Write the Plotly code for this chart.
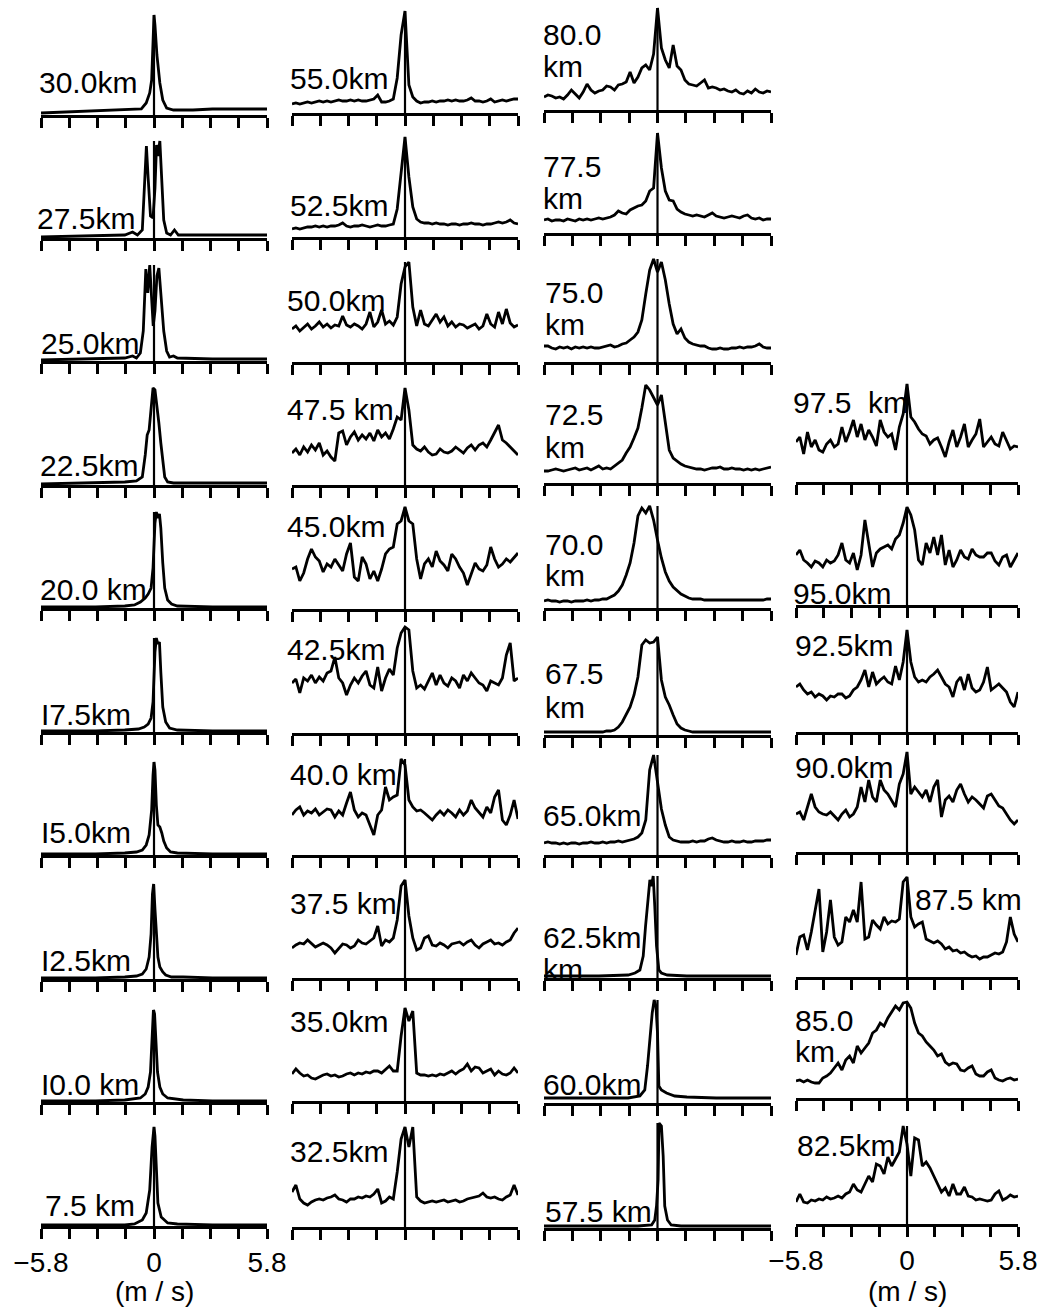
import plotly.graph_objects as go

FIG_W, FIG_H = 1043, 1307

# Doppler velocity axis (m/s)
TICK_VALUES = [-5.8, -4.35, -2.9, -1.45, 0.0, 1.45, 2.9, 4.35, 5.8]
EDGE_TICK_TEXT = ["\u22125.8", "", "", "", "0", "", "", "", "5.8"]
VEL_UNIT = "(m / s)"

# shared 0.2 m/s velocity grid used by the broader / noisier spectra
VEL = [round(-5.8 + 0.2 * k, 1) for k in range(59)]

# ---------------- 7.5 - 30.0 km (narrow echoes) ----------------
VEL_30_0 = [-5.8, -4.5, -3.0, -2.0, -1.2, -0.65, -0.4, -0.22, -0.12, -0.05, 0.0,
            0.05, 0.15, 0.3, 0.45, 0.65, 1.0, 2.0, 3.0, 4.5, 5.8]
POW_30_0 = [2, 3, 4, 5, 5, 6, 12, 22, 35, 80, 100, 90, 60, 32, 15, 7, 5, 5, 6, 6, 6]

VEL_27_5 = [-5.8, -3.0, -1.5, -1.1, -0.85, -0.6, -0.5, -0.39, -0.3, -0.18, -0.05,
            0.05, 0.13, 0.2, 0.3, 0.4, 0.5, 0.65, 0.85, 1.05, 1.25, 3.0, 5.8]
POW_27_5 = [1, 2, 3, 6, 3, 8, 45, 92, 60, 22, 20, 50, 93, 82, 97, 55, 18, 5, 3, 8, 3, 3, 3]

VEL_25_0 = [-5.8, -3.0, -1.5, -1.1, -0.9, -0.7, -0.55, -0.42, -0.32, -0.22, -0.12,
            -0.04, 0.05, 0.15, 0.25, 0.35, 0.5, 0.65, 0.8, 1.0, 1.2, 3.0, 5.8]
POW_25_0 = [1, 2, 3, 5, 3, 8, 30, 92, 68, 96, 60, 35, 50, 85, 93, 70, 30, 10, 4, 5, 3, 2, 2]

VEL_22_5 = [-5.8, -3.0, -1.5, -0.9, -0.6, -0.45, -0.35, -0.25, -0.15, -0.05, 0.05,
            0.15, 0.25, 0.35, 0.45, 0.55, 0.7, 1.0, 3.0, 5.8]
POW_22_5 = [1, 2, 3, 4, 8, 30, 50, 55, 75, 97, 95, 80, 62, 42, 22, 8, 3, 2, 2, 2]

VEL_20_0 = [-5.8, -3.0, -1.5, -1.0, -0.7, -0.45, -0.3, -0.15, -0.05, 0.05, 0.12,
            0.2, 0.28, 0.35, 0.45, 0.55, 0.7, 0.9, 1.2, 3.0, 5.8]
POW_20_0 = [1, 1, 2, 3, 6, 10, 14, 20, 40, 85, 96, 90, 94, 80, 45, 20, 8, 4, 2, 1, 1]

VEL_17_5 = [-5.8, -3.0, -1.5, -0.8, -0.5, -0.3, -0.15, -0.05, 0.05, 0.12, 0.2,
            0.28, 0.35, 0.45, 0.6, 0.8, 1.2, 3.0, 5.8]
POW_17_5 = [1, 1, 2, 3, 5, 8, 14, 30, 80, 94, 88, 90, 60, 25, 10, 4, 2, 1, 1]

VEL_15_0 = [-5.8, -3.0, -1.5, -0.9, -0.6, -0.4, -0.25, -0.12, -0.05, 0.0, 0.05,
            0.12, 0.2, 0.3, 0.4, 0.5, 0.65, 0.85, 1.2, 3.0, 5.8]
POW_15_0 = [1, 1, 2, 3, 5, 10, 20, 45, 80, 93, 85, 50, 30, 28, 22, 14, 7, 3, 2, 1, 1]

VEL_12_5 = [-5.8, -3.0, -1.5, -0.9, -0.6, -0.4, -0.25, -0.15, -0.08, -0.02, 0.05,
            0.12, 0.2, 0.3, 0.45, 0.6, 0.9, 1.5, 3.0, 5.8]
POW_12_5 = [1, 1, 2, 3, 5, 10, 22, 45, 85, 95, 70, 40, 22, 12, 7, 4, 2, 2, 1, 1]

VEL_10_0 = [-5.8, -3.0, -1.5, -1.0, -0.7, -0.45, -0.3, -0.18, -0.1, -0.03, 0.03,
            0.1, 0.18, 0.3, 0.45, 0.7, 1.0, 1.5, 3.0, 5.8]
POW_10_0 = [1, 1, 2, 3, 4, 8, 15, 30, 60, 92, 88, 55, 30, 15, 8, 4, 3, 2, 1, 1]

VEL_7_5 = [-5.8, -3.0, -1.5, -1.0, -0.6, -0.4, -0.22, -0.1, -0.03, 0.0, 0.05,
           0.12, 0.2, 0.37, 0.7, 1.2, 3.0, 5.8]
POW_7_5 = [1, 1, 1, 2, 6, 13, 36, 79, 95, 99, 90, 63, 23, 9, 3, 2, 1, 1]

# ---------------- 32.5 - 55.0 km (on VEL grid) ----------------
POW_55_0 = [9, 10, 9, 10, 11, 10, 11, 12, 11, 12,
            11, 12, 13, 12, 12, 13, 12, 13, 12, 12,
            13, 14, 18, 11, 11, 12, 14, 35, 78, 102,
            28, 16, 12, 10, 11, 11, 12, 11, 12, 12,
            13, 12, 13, 12, 12, 13, 15, 12, 12, 11,
            12, 14, 11, 12, 13, 12, 13, 14, 14]
POW_52_5 = [8, 9, 8, 9, 10, 10, 11, 10, 11, 10,
            11, 11, 12, 14, 11, 10, 11, 11, 12, 11,
            10, 11, 12, 11, 11, 12, 13, 28, 62, 100,
            60, 30, 18, 15, 14, 14, 13, 14, 13, 13,
            12, 13, 13, 12, 13, 13, 14, 13, 13, 12,
            13, 13, 14, 15, 14, 15, 17, 14, 13]
POW_50_0 = [33, 36, 31, 35, 38, 33, 36, 40, 35, 38,
            34, 37, 36, 46, 37, 35, 38, 36, 33, 38,
            50, 35, 40, 52, 38, 41, 37, 45, 78, 95,
            100, 55, 36, 52, 38, 36, 42, 48, 40, 45,
            36, 40, 35, 38, 37, 34, 36, 38, 33, 36,
            48, 38, 35, 50, 38, 53, 39, 35, 37]
POW_47_5 = [32, 36, 30, 38, 33, 40, 35, 42, 30, 34,
            28, 24, 52, 54, 40, 48, 53, 45, 50, 46,
            52, 44, 55, 48, 52, 46, 56, 68, 65, 97,
            75, 40, 36, 34, 38, 33, 30, 31, 36, 33,
            32, 34, 38, 35, 32, 37, 40, 35, 40, 42,
            38, 45, 52, 60, 45, 42, 38, 34, 30]
POW_45_0 = [40, 42, 28, 36, 50, 60, 52, 48, 37, 45,
            42, 50, 44, 38, 55, 66, 32, 28, 52, 45,
            30, 38, 28, 40, 55, 60, 62, 85, 88, 102,
            88, 85, 50, 30, 45, 50, 42, 58, 48, 44,
            38, 55, 50, 42, 36, 24, 35, 46, 40, 38,
            44, 62, 50, 42, 45, 50, 47, 52, 56]
POW_42_5 = [50, 54, 40, 55, 52, 58, 50, 56, 52, 60,
            62, 76, 55, 50, 38, 48, 55, 50, 57, 62,
            48, 45, 66, 42, 55, 64, 58, 85, 100, 106,
            103, 62, 45, 48, 44, 52, 60, 48, 58, 50,
            47, 55, 52, 45, 58, 52, 60, 55, 50, 48,
            42, 52, 50, 48, 55, 78, 90, 52, 55]
POW_40_0 = [40, 45, 48, 40, 44, 42, 46, 40, 43, 46,
            45, 38, 44, 40, 52, 63, 45, 38, 42, 40,
            30, 20, 40, 45, 68, 55, 58, 60, 96, 90,
            55, 48, 44, 45, 42, 38, 35, 40, 44, 40,
            45, 42, 38, 45, 40, 44, 55, 47, 42, 38,
            48, 42, 58, 65, 35, 30, 40, 55, 36]
POW_37_5 = [30, 33, 35, 34, 38, 34, 31, 33, 35, 33,
            30, 25, 30, 34, 33, 30, 32, 38, 35, 34,
            37, 40, 52, 32, 38, 36, 40, 58, 92, 98,
            62, 40, 28, 30, 40, 42, 33, 32, 35, 33,
            30, 34, 35, 36, 33, 36, 38, 33, 30, 34,
            36, 38, 34, 35, 33, 36, 38, 45, 50]
POW_35_0 = [27, 32, 28, 25, 26, 23, 22, 24, 26, 27,
            25, 26, 24, 25, 27, 28, 26, 28, 27, 29,
            28, 30, 30, 28, 32, 35, 30, 30, 65, 93,
            80, 90, 28, 26, 26, 25, 26, 25, 27, 26,
            28, 30, 27, 30, 32, 37, 30, 34, 33, 28,
            30, 32, 26, 30, 27, 26, 28, 33, 28]
POW_32_5 = [35, 42, 28, 24, 22, 25, 27, 28, 27, 29,
            30, 32, 28, 27, 25, 28, 28, 30, 29, 31,
            30, 33, 38, 24, 26, 30, 28, 55, 88, 100,
            80, 100, 30, 26, 24, 25, 26, 25, 26, 27,
            25, 26, 27, 25, 26, 28, 29, 30, 31, 34,
            30, 29, 30, 28, 27, 30, 32, 42, 32]

# ---------------- 57.5 - 80.0 km ----------------
POW_80_0 = [13, 15, 14, 12, 13, 11, 15, 20, 16, 12,
            18, 26, 20, 17, 19, 20, 24, 23, 20, 25,
            26, 28, 38, 27, 33, 42, 45, 40, 56, 102,
            62, 50, 42, 65, 44, 40, 30, 26, 25, 24,
            27, 30, 22, 23, 22, 20, 21, 19, 18, 20,
            17, 16, 19, 17, 21, 18, 17, 19, 18]
POW_77_5 = [13, 14, 12, 13, 13, 12, 14, 13, 12, 14,
            13, 14, 13, 14, 15, 14, 15, 16, 18, 22,
            20, 19, 23, 25, 27, 28, 32, 42, 45, 100,
            65, 42, 33, 32, 24, 21, 19, 18, 17, 18,
            17, 16, 18, 20, 17, 16, 15, 16, 17, 16,
            15, 17, 18, 15, 14, 15, 13, 14, 14]
POW_75_0 = [16, 16, 14, 13, 15, 14, 15, 13, 15, 14,
            15, 14, 15, 14, 14, 15, 16, 17, 15, 16,
            18, 19, 22, 25, 30, 42, 68, 92, 103, 90,
            100, 82, 58, 38, 28, 33, 24, 20, 18, 17,
            16, 16, 14, 13, 13, 14, 13, 13, 14, 14,
            15, 14, 15, 15, 16, 18, 15, 14, 14]
POW_72_5 = [12, 12, 13, 14, 13, 12, 13, 14, 15, 13,
            14, 15, 13, 15, 17, 14, 15, 14, 17, 20,
            23, 30, 36, 45, 55, 75, 98, 93, 85, 78,
            88, 60, 33, 25, 22, 19, 17, 16, 15, 14,
            14, 13, 14, 15, 15, 16, 14, 14, 15, 14,
            14, 13, 14, 13, 14, 13, 14, 15, 16]
POW_70_0 = [7, 8, 7, 7, 6, 7, 7, 6, 7, 7,
            7, 8, 7, 8, 8, 9, 9, 11, 13, 17,
            23, 33, 45, 65, 92, 100, 95, 102, 88, 68,
            50, 36, 27, 21, 17, 14, 12, 10, 9, 9,
            9, 8, 8, 8, 8, 8, 8, 8, 8, 8,
            8, 8, 8, 8, 8, 8, 8, 9, 9]
POW_67_5 = [3, 3, 3, 3, 3, 3, 3, 3, 3, 3,
            3, 3, 3, 3, 3, 3, 4, 4, 5, 8,
            13, 20, 28, 40, 58, 90, 95, 92, 93, 98,
            55, 38, 30, 20, 11, 7, 5, 4, 3, 3,
            3, 3, 3, 3, 3, 3, 3, 3, 3, 3,
            3, 3, 3, 3, 3, 3, 3, 3, 3]
POW_65_0 = [12, 13, 12, 12, 11, 12, 11, 12, 12, 11,
            12, 12, 13, 12, 12, 13, 12, 13, 13, 14,
            13, 14, 15, 16, 18, 22, 35, 85, 100, 75,
            46, 30, 18, 15, 14, 13, 13, 13, 14, 13,
            14, 14, 16, 17, 15, 14, 13, 13, 14, 13,
            13, 14, 13, 13, 14, 14, 14, 15, 15]

VEL_62_5 = [-5.8, -3.0, -1.5, -1.15, -0.9, -0.73, -0.61, -0.48, -0.39, -0.3, -0.22,
            -0.14, -0.05, 0.07, 0.2, 0.5, 1.5, 3.0, 5.8]
POW_62_5 = [2, 2, 3, 5, 8, 22, 52, 78, 98, 92, 102, 72, 32, 8, 5, 3, 2, 2, 2]

VEL_60_0 = [-5.8, -3.0, -1.5, -0.9, -0.65, -0.51, -0.39, -0.27, -0.17, -0.08, 0.0,
            0.07, 0.2, 0.46, 0.88, 1.5, 3.0, 5.8]
POW_60_0 = [5, 5, 5, 7, 13, 37, 63, 90, 103, 97, 70, 17, 13, 10, 7, 6, 5, 5]

VEL_57_5 = [-5.8, -3.0, -1.0, -0.3, -0.14, -0.05, 0.03, 0.08, 0.2, 0.29, 0.37,
            0.51, 0.7, 1.2, 3.0, 5.8]
POW_57_5 = [2, 2, 2, 3, 8, 22, 48, 105, 102, 72, 22, 8, 3, 2, 2, 2]

# ---------------- 82.5 - 97.5 km (on VEL grid) ----------------
POW_97_5 = [40, 45, 28, 50, 35, 42, 32, 30, 38, 42,
            35, 38, 55, 40, 50, 62, 45, 58, 42, 52,
            45, 36, 62, 50, 45, 48, 32, 55, 68, 98,
            65, 60, 53, 48, 46, 38, 42, 44, 35, 25,
            40, 52, 35, 45, 58, 35, 42, 48, 63, 35,
            40, 45, 38, 36, 50, 42, 33, 36, 35]
POW_95_0 = [50, 55, 45, 42, 38, 44, 42, 38, 45, 42,
            44, 50, 62, 45, 42, 52, 35, 50, 85, 60,
            38, 52, 56, 58, 60, 56, 66, 70, 82, 98,
            90, 75, 45, 40, 62, 52, 68, 50, 70, 40,
            55, 38, 45, 55, 48, 46, 56, 50, 48, 48,
            52, 52, 44, 40, 48, 50, 38, 45, 52]
POW_92_5 = [45, 48, 42, 38, 40, 35, 38, 36, 32, 36,
            35, 38, 38, 34, 36, 42, 45, 52, 62, 45,
            60, 48, 52, 55, 50, 48, 66, 52, 70, 102,
            70, 55, 50, 52, 50, 55, 58, 62, 55, 48,
            45, 35, 50, 55, 42, 58, 44, 40, 42, 50,
            65, 42, 45, 48, 44, 40, 30, 25, 40]
POW_90_0 = [38, 40, 32, 45, 58, 45, 40, 38, 37, 40,
            36, 32, 38, 42, 35, 38, 45, 65, 50, 72,
            55, 50, 72, 62, 58, 52, 45, 68, 78, 100,
            58, 65, 60, 55, 62, 50, 65, 72, 35, 52,
            56, 50, 62, 68, 58, 50, 55, 52, 48, 44,
            56, 58, 52, 46, 44, 38, 32, 28, 32]
POW_87_5 = [22, 40, 42, 27, 45, 65, 88, 25, 45, 77,
            40, 32, 35, 60, 55, 67, 55, 95, 38, 40,
            57, 52, 48, 60, 53, 56, 55, 58, 95, 100,
            60, 50, 53, 55, 38, 36, 34, 36, 33, 28,
            30, 26, 27, 24, 25, 22, 20, 21, 18, 20,
            20, 22, 24, 23, 25, 35, 60, 43, 35]
POW_85_0 = [17, 18, 16, 18, 16, 15, 15, 20, 22, 25,
            30, 35, 28, 38, 42, 35, 52, 45, 50, 55,
            65, 68, 75, 72, 80, 86, 92, 88, 95, 96,
            90, 75, 65, 62, 56, 52, 48, 42, 44, 36,
            33, 35, 34, 28, 27, 30, 32, 24, 22, 22,
            26, 28, 20, 18, 17, 19, 20, 18, 19]
POW_82_5 = [22, 30, 22, 21, 24, 23, 25, 24, 27, 25,
            26, 28, 26, 30, 32, 40, 34, 32, 40, 48,
            42, 60, 58, 50, 67, 58, 65, 72, 98, 80,
            48, 86, 84, 58, 62, 56, 48, 40, 32, 36,
            28, 40, 30, 30, 37, 28, 27, 24, 25, 24,
            23, 24, 30, 33, 24, 26, 29, 27, 28]

# ---------------- page geometry (pixels) ----------------
COLUMN_SPAN = [(41, 267), (292, 518), (544, 771), (796, 1018)]
AXIS_ROW_Y = [
    [115, 238, 361, 485, 608, 732, 855, 979, 1102, 1226],
    [113, 237, 362, 485, 609, 733, 855, 978, 1101, 1227],
    [110, 233, 362, 483, 608, 735, 855, 978, 1103, 1228],
    [None, None, None, 482, 605, 732, 852, 977, 1098, 1224],
]
PANEL_H = 120
FONT_FAMILY = "Liberation Sans, Arial, sans-serif"
LABEL_FONT = dict(family=FONT_FAMILY, size=30, color="black")

# (column, row, velocities, power, [(text, left px, centre px), ...])
PANELS = [
    (0, 0, VEL_30_0, POW_30_0, [("30.0km", 38, 82)]),
    (0, 1, VEL_27_5, POW_27_5, [("27.5km", 36, 218)]),
    (0, 2, VEL_25_0, POW_25_0, [("25.0km", 40, 343)]),
    (0, 3, VEL_22_5, POW_22_5, [("22.5km", 39, 465)]),
    (0, 4, VEL_20_0, POW_20_0, [("20.0 km", 39, 590)]),
    (0, 5, VEL_17_5, POW_17_5, [("I7.5km", 40, 714)]),
    (0, 6, VEL_15_0, POW_15_0, [("I5.0km", 40, 832)]),
    (0, 7, VEL_12_5, POW_12_5, [("I2.5km", 40, 960)]),
    (0, 8, VEL_10_0, POW_10_0, [("I0.0 km", 40, 1084)]),
    (0, 9, VEL_7_5, POW_7_5, [("7.5 km", 44, 1205)]),
    (1, 0, VEL, POW_55_0, [("55.0km", 289, 79)]),
    (1, 1, VEL, POW_52_5, [("52.5km", 289, 206)]),
    (1, 2, VEL, POW_50_0, [("50.0km", 286, 300)]),
    (1, 3, VEL, POW_47_5, [("47.5 km", 286, 409)]),
    (1, 4, VEL, POW_45_0, [("45.0km", 286, 526)]),
    (1, 5, VEL, POW_42_5, [("42.5km", 286, 649)]),
    (1, 6, VEL, POW_40_0, [("40.0 km", 289, 774)]),
    (1, 7, VEL, POW_37_5, [("37.5 km", 289, 903)]),
    (1, 8, VEL, POW_35_0, [("35.0km", 289, 1021)]),
    (1, 9, VEL, POW_32_5, [("32.5km", 289, 1151)]),
    (2, 0, VEL, POW_80_0, [("80.0", 542, 35), ("km", 542, 66)]),
    (2, 1, VEL, POW_77_5, [("77.5", 542, 166), ("km", 542, 198)]),
    (2, 2, VEL, POW_75_0, [("75.0", 544, 292), ("km", 544, 324)]),
    (2, 3, VEL, POW_72_5, [("72.5", 544, 414), ("km", 544, 447)]),
    (2, 4, VEL, POW_70_0, [("70.0", 544, 544), ("km", 544, 576)]),
    (2, 5, VEL, POW_67_5, [("67.5", 544, 674), ("km", 544, 707)]),
    (2, 6, VEL, POW_65_0, [("65.0km", 542, 815)]),
    (2, 7, VEL_62_5, POW_62_5, [("62.5km", 542, 937), ("km", 542, 969)]),
    (2, 8, VEL_60_0, POW_60_0, [("60.0km", 542, 1084)]),
    (2, 9, VEL_57_5, POW_57_5, [("57.5 km", 544, 1211)]),
    (3, 3, VEL, POW_97_5, [("97.5\u00a0\u00a0km", 792, 402)]),
    (3, 4, VEL, POW_95_0, [("95.0km", 792, 593)]),
    (3, 5, VEL, POW_92_5, [("92.5km", 794, 645)]),
    (3, 6, VEL, POW_90_0, [("90.0km", 794, 767)]),
    (3, 7, VEL, POW_87_5, [("87.5 km", 914, 899)]),
    (3, 8, VEL, POW_85_0, [("85.0", 794, 1020), ("km", 794, 1051)]),
    (3, 9, VEL, POW_82_5, [("82.5km", 796, 1145)]),
]

fig = go.Figure()
layout_axes = {}
annotations = []

for n, (col, row, vel, power, labels) in enumerate(PANELS, start=1):
    if len(vel) != len(power):
        raise ValueError(f"length mismatch in panel {labels[0][0]}")
    x0, x1 = COLUMN_SPAN[col]
    axis_y = AXIS_ROW_Y[col][row]
    ph = min(PANEL_H, axis_y - 2)
    suffix = "" if n == 1 else str(n)
    xa, ya = "x" + suffix, "y" + suffix
    bottom_labels = row == 9 and col in (0, 3)

    layout_axes["xaxis" + suffix] = dict(
        domain=[x0 / FIG_W, x1 / FIG_W], anchor=ya, range=[-5.8, 5.8],
        automargin=False,
        showline=True, linewidth=2.6, linecolor="black",
        ticks="outside", ticklen=10, tickwidth=2.6, tickcolor="black",
        tickmode="array", tickvals=TICK_VALUES,
        ticktext=EDGE_TICK_TEXT if bottom_labels else [""] * len(TICK_VALUES),
        showticklabels=bottom_labels,
        tickfont=dict(family=FONT_FAMILY, size=28, color="black"),
        showgrid=False, zeroline=False, fixedrange=True,
    )
    layout_axes["yaxis" + suffix] = dict(
        domain=[1 - axis_y / FIG_H, 1 - (axis_y - ph) / FIG_H], anchor=xa,
        range=[0, ph], visible=False, automargin=False, fixedrange=True,
    )

    # spectrum
    fig.add_trace(go.Scatter(
        x=vel, y=power, xaxis=xa, yaxis=ya, mode="lines",
        line=dict(color="black", width=2.8), hoverinfo="skip", showlegend=False,
    ))
    # zero-velocity marker line, up to the spectral peak
    fig.add_trace(go.Scatter(
        x=[0, 0], y=[0, max(power)], xaxis=xa, yaxis=ya, mode="lines",
        line=dict(color="black", width=2.2), hoverinfo="skip", showlegend=False,
    ))

    for text, lx, ly in labels:
        annotations.append(dict(
            text=text, xref="paper", yref="paper", x=lx / FIG_W, y=1 - ly / FIG_H,
            xanchor="left", yanchor="middle", showarrow=False, font=LABEL_FONT,
            borderpad=0,
        ))

    if bottom_labels:
        annotations.append(dict(
            text=VEL_UNIT, xref=xa, yref="paper", x=0, y=1 - 1291 / FIG_H,
            xanchor="center", yanchor="middle", showarrow=False,
            font=dict(family=FONT_FAMILY, size=28, color="black"), borderpad=0,
        ))

fig.update_layout(
    template="none",
    width=FIG_W, height=FIG_H, autosize=False,
    margin=dict(l=0, r=0, t=0, b=0, pad=0),
    paper_bgcolor="white", plot_bgcolor="white",
    showlegend=False, annotations=annotations, **layout_axes,
)

fig.write_html("out.html")
